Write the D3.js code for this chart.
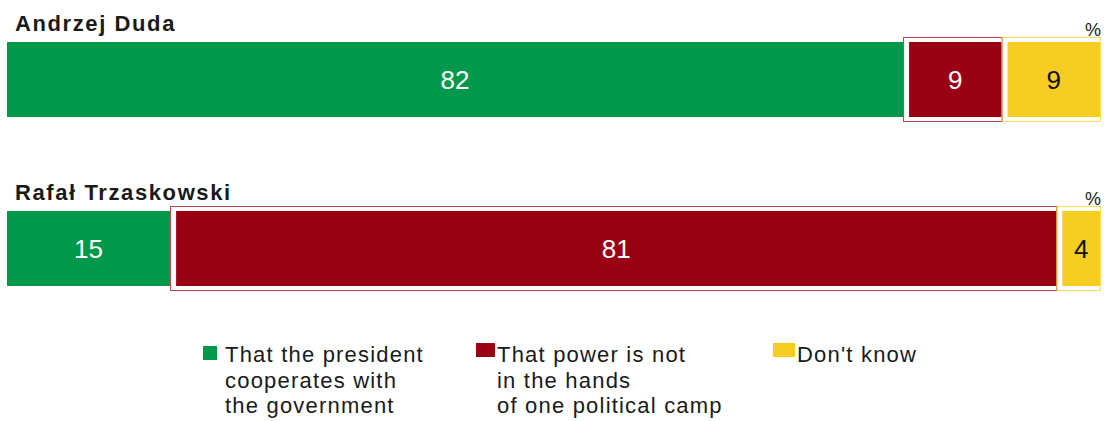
<!DOCTYPE html>
<html>
<head>
<meta charset="utf-8">
<script src="https://cdn.jsdelivr.net/npm/d3@7"></script>
<style>
  body { margin: 0; background: #fff; }
  svg { display: block; font-family: "Liberation Sans", Arial, sans-serif; }
</style>
</head>
<body>
<div id="chart"></div>
<script>
const width = 1104;
const height = 421;

// data
const people = ["Andrzej Duda", "Rafał Trzaskowski"];
const answers = ["That the president cooperates with the government", "That power is not in the hands of one political camp", "Don't know"];
const cooperates = [82, 15];
const notOneCamp = [9, 81];
const dontKnow = [9, 4];
const legendLines = [
  ["That the president", "cooperates with", "the government"],
  ["That power is not", "in the hands", "of one political camp"],
  ["Don't know"]
];

const colors = ["#00984a", "#990014", "#f8cd21"];
const textColors = ["#fff", "#fff", "#111"];

const svg = d3.select("#chart")
  .append("svg")
  .attr("width", width)
  .attr("height", height);

const x = d3.scaleLinear().domain([0, 100]).range([7, 1101]);
const y = d3.scaleBand().domain(people).range([42, 286]).paddingInner(0.556).paddingOuter(0);

const rows = people.map((p, i) => {
  const vals = [cooperates[i], notOneCamp[i], dontKnow[i]];
  let acc = 0;
  return vals.map((v, k) => {
    const seg = { person: p, k: k, v: v, x0: acc, x1: acc + v };
    acc += v;
    return seg;
  });
});

rows.forEach((segs, i) => {
  const p = people[i];
  const top = y(p);
  const h = y.bandwidth();
  const g = svg.append("g");

  // title
  g.append("text")
    .attr("x", 15)
    .attr("y", top - 11)
    .attr("font-size", 22)
    .attr("font-weight", "bold")
    .attr("letter-spacing", 1.6)
    .attr("fill", "#1a1a1a")
    .text(p);

  g.append("text")
    .attr("x", 1101)
    .attr("y", top - 6)
    .attr("text-anchor", "end")
    .attr("font-size", 18)
    .attr("fill", "#1a1a1a")
    .text("%");

  segs.forEach(s => {
    const a = x(s.x0), b = x(s.x1);
    let fx0 = a, fx1 = b;
    if (s.k > 0) {
      // outlined segment with a white gap
      g.append("rect")
        .attr("x", a - 0.5)
        .attr("y", top - 4.5)
        .attr("width", b - a)
        .attr("height", h + 9)
        .attr("fill", "none")
        .attr("stroke", colors[s.k])
        .attr("stroke-opacity", 0.75)
        .attr("stroke-width", 1);
      fx0 = a + 5;
      fx1 = Math.min(b - 1, 1101);
    } else {
      fx1 = b - 1;
    }
    g.append("rect")
      .attr("x", fx0)
      .attr("y", top)
      .attr("width", fx1 - fx0)
      .attr("height", h)
      .attr("fill", colors[s.k]);

    g.append("text")
      .attr("x", (fx0 + fx1) / 2)
      .attr("y", top + h / 2 + 9.5)
      .attr("text-anchor", "middle")
      .attr("font-size", 26)
      .attr("fill", textColors[s.k])
      .text(s.v);
  });
});

// legend
const legendX = [203, 476, 773];
const legendText = [225, 497, 797];
const swatch = [
  { y: 346, w: 14, h: 14 },
  { y: 343, w: 19, h: 14 },
  { y: 343, w: 22, h: 14 }
];
const legend = svg.append("g");
answers.forEach((a, i) => {
  legend.append("rect")
    .attr("x", legendX[i])
    .attr("y", swatch[i].y)
    .attr("width", swatch[i].w)
    .attr("height", swatch[i].h)
    .attr("fill", colors[i]);
  const t = legend.append("text")
    .attr("x", legendText[i])
    .attr("y", 362)
    .attr("font-size", 22)
    .attr("letter-spacing", 1.2)
    .attr("fill", "#1a1a1a");
  legendLines[i].forEach((line, j) => {
    t.append("tspan")
      .attr("x", legendText[i])
      .attr("dy", j === 0 ? 0 : 25.5)
      .text(line);
  });
});
</script>
</body>
</html>
